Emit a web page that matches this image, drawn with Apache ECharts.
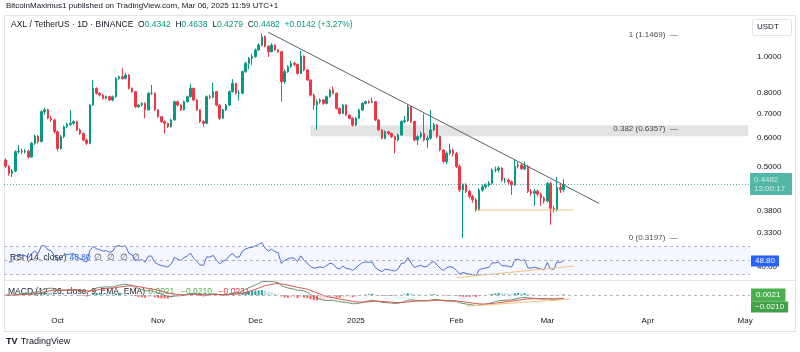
<!DOCTYPE html>
<html>
<head>
<meta charset="utf-8" />
<title>AXL / TetherUS - 1D - BINANCE</title>
<script src="https://cdn.jsdelivr.net/npm/echarts@6.0.0/dist/echarts.min.js"></script>
<style>
  html, body { margin: 0; padding: 0; background: #fff; }
  #chart { width: 800px; height: 352px; }
</style>
</head>
<body>
<div id="chart"></div>
<script>
// daily candles, 2024-09-15 .. 2025-03-06 (open = previous close, 24/7 market)
var firstOpen = 0.523;
var closes = [
  0.503, 0.481, 0.488, 0.551, 0.553, 0.550, 0.553, 0.533, 0.581, 0.608,
  0.587, 0.709, 0.717, 0.680, 0.673, 0.625, 0.562, 0.606, 0.645, 0.654,
  0.659, 0.666, 0.632, 0.618, 0.593, 0.581, 0.739, 0.821, 0.796, 0.787,
  0.771, 0.779, 0.763, 0.779, 0.874, 0.883, 0.874, 0.893, 0.821, 0.804,
  0.731, 0.739, 0.747, 0.717, 0.796, 0.796, 0.717, 0.687, 0.666, 0.659,
  0.645, 0.673, 0.755, 0.739, 0.717, 0.755, 0.779, 0.821, 0.763, 0.717,
  0.666, 0.659, 0.779, 0.776, 0.804, 0.739, 0.680, 0.717, 0.739, 0.804,
  0.847, 0.796, 0.796, 0.912, 0.961, 0.992, 1.002, 1.045, 1.078, 1.136,
  1.070, 1.034, 1.078, 1.045, 1.034, 0.856, 0.912, 0.941, 0.961, 0.955,
  0.902, 1.006, 0.922, 0.865, 0.787, 0.739, 0.755, 0.763, 0.747, 0.779,
  0.812, 0.796, 0.724, 0.701, 0.739, 0.694, 0.680, 0.652, 0.680, 0.717,
  0.747, 0.755, 0.752, 0.755, 0.673, 0.632, 0.600, 0.625, 0.618, 0.606,
  0.593, 0.612, 0.666, 0.670, 0.731, 0.666, 0.593, 0.606, 0.618, 0.593,
  0.600, 0.632, 0.652, 0.606, 0.557, 0.518, 0.546, 0.557, 0.545, 0.502,
  0.433, 0.447, 0.429, 0.416, 0.407, 0.382, 0.433, 0.442, 0.447, 0.452,
  0.491, 0.491, 0.497, 0.461, 0.461, 0.456, 0.447, 0.503, 0.507, 0.495,
  0.503, 0.429, 0.424, 0.430, 0.422, 0.412, 0.404, 0.451, 0.386, 0.382,
  0.440, 0.4342, 0.4482
];
var highs = [
  0.528, 0.506, 0.494, 0.556, 0.575, 0.562, 0.560, 0.558, 0.586, 0.615,
  0.612, 0.715, 0.727, 0.722, 0.690, 0.678, 0.630, 0.612, 0.650, 0.662,
  0.717, 0.672, 0.670, 0.638, 0.622, 0.598, 0.745, 0.865, 0.826, 0.800,
  0.792, 0.785, 0.784, 0.785, 0.880, 0.890, 0.931, 0.905, 0.898, 0.826,
  0.808, 0.745, 0.752, 0.751, 0.802, 0.839, 0.800, 0.720, 0.690, 0.670,
  0.662, 0.678, 0.760, 0.760, 0.742, 0.760, 0.785, 0.845, 0.825, 0.766,
  0.720, 0.672, 0.785, 0.790, 0.850, 0.808, 0.742, 0.722, 0.745, 0.810,
  0.870, 0.850, 0.812, 0.918, 0.970, 1.000, 1.020, 1.055, 1.090, 1.160,
  1.145, 1.075, 1.090, 1.082, 1.050, 1.040, 0.925, 0.950, 0.975, 0.970,
  0.960, 1.040, 1.010, 0.928, 0.870, 0.795, 0.765, 0.770, 0.768, 0.785,
  0.818, 0.830, 0.800, 0.728, 0.745, 0.742, 0.698, 0.684, 0.686, 0.722,
  0.752, 0.760, 0.762, 0.775, 0.758, 0.676, 0.636, 0.630, 0.628, 0.622,
  0.610, 0.618, 0.672, 0.690, 0.740, 0.735, 0.670, 0.612, 0.625, 0.700,
  0.610, 0.717, 0.660, 0.656, 0.610, 0.560, 0.552, 0.580, 0.562, 0.550,
  0.508, 0.452, 0.452, 0.434, 0.420, 0.412, 0.438, 0.448, 0.452, 0.458,
  0.496, 0.502, 0.504, 0.500, 0.468, 0.466, 0.460, 0.523, 0.515, 0.512,
  0.518, 0.506, 0.436, 0.436, 0.434, 0.426, 0.416, 0.456, 0.456, 0.392,
  0.470, 0.452, 0.4638
];
var lows = [
  0.497, 0.474, 0.470, 0.485, 0.545, 0.542, 0.545, 0.527, 0.530, 0.575,
  0.580, 0.585, 0.695, 0.675, 0.665, 0.618, 0.552, 0.558, 0.600, 0.640,
  0.648, 0.652, 0.628, 0.612, 0.588, 0.575, 0.578, 0.735, 0.790, 0.780,
  0.765, 0.766, 0.758, 0.756, 0.775, 0.866, 0.866, 0.868, 0.815, 0.798,
  0.725, 0.726, 0.733, 0.680, 0.713, 0.788, 0.712, 0.682, 0.660, 0.618,
  0.640, 0.641, 0.670, 0.733, 0.712, 0.714, 0.750, 0.775, 0.758, 0.712,
  0.660, 0.645, 0.655, 0.768, 0.770, 0.733, 0.672, 0.676, 0.712, 0.735,
  0.800, 0.790, 0.760, 0.792, 0.905, 0.925, 0.950, 0.995, 1.040, 1.070,
  1.062, 1.000, 1.028, 1.040, 1.026, 0.755, 0.845, 0.905, 0.935, 0.945,
  0.895, 0.898, 0.915, 0.860, 0.780, 0.717, 0.632, 0.745, 0.740, 0.742,
  0.775, 0.790, 0.718, 0.695, 0.698, 0.690, 0.675, 0.645, 0.648, 0.676,
  0.712, 0.742, 0.745, 0.748, 0.668, 0.628, 0.595, 0.596, 0.612, 0.600,
  0.545, 0.588, 0.608, 0.660, 0.665, 0.660, 0.588, 0.575, 0.600, 0.588,
  0.565, 0.595, 0.628, 0.600, 0.552, 0.512, 0.510, 0.540, 0.535, 0.497,
  0.428, 0.3197, 0.425, 0.410, 0.400, 0.378, 0.380, 0.428, 0.436, 0.442,
  0.448, 0.484, 0.484, 0.456, 0.452, 0.450, 0.420, 0.444, 0.496, 0.490,
  0.490, 0.425, 0.418, 0.392, 0.416, 0.392, 0.398, 0.400, 0.348, 0.376,
  0.378, 0.425, 0.4279
];

// axis ticks
var priceTicks = [0.33, 0.38, 0.5, 0.6, 0.7, 0.8, 1.0];
var tickDates = ['2024-10-01', '2024-11-01', '2024-12-01', '2025-01-01', '2025-02-01', '2025-03-01', '2025-04-01', '2025-05-01'];
var tickLabels = ['Oct', 'Nov', 'Dec', '2025', 'Feb', 'Mar', 'Apr', 'May'];

// drawings
var fibRatios = ['1', '0.382', '0'];
var fibPrices = [1.1469, 0.6357, 0.3197];
var zoneDates = ['2024-12-18', '2025-05-02'];
var zonePrices = [0.651, 0.6075];
var trendDates = ['2024-12-05', '2025-03-17'];
var trendPrices = [1.168, 0.398];
var supportDates = ['2025-02-07', '2025-03-09'];
var supportPrices = [0.382, 0.382];
var rsiTrendDates = ['2025-02-01', '2025-03-09'];
var rsiTrendValues = [25.2, 41.5];
var macdTrendDates = ['2025-02-04', '2025-03-08'];
var macdTrendValues = [-0.075, -0.028];

// header and last values shown on the scales
var ohlc = [0.4342, 0.4638, 0.4279, 0.4482];
var change = '+0.0142 (+3.27%)';
var countdown = '13:00:17';
var lastRsi = 48.80;
var lastHist = 0.0021;
var lastMacd = -0.0210;
var lastSignal = -0.0231;

// category axis: one slot per day, with empty space to the right
var dates = [];
for (var d = 0; d < 230; d++) {
    dates.push(new Date(Date.UTC(2024, 8, 15) + d * 864e5).toISOString().slice(0, 10));
}

var candles = closes.map(function (c, i) {
    var o = i === 0 ? firstOpen : closes[i - 1];
    return [o, c, lows[i], highs[i]];
});

// RSI (14) with Wilder smoothing, neutral warm-up
function calcRsi(src, len) {
    var seed = 0;
    for (var i = 1; i <= len; i++) seed += Math.abs(src[i] - src[i - 1]);
    var up = seed / len / 2, dn = up;
    var out = [null];
    for (var j = 1; j < src.length; j++) {
        var ch = src[j] - src[j - 1];
        up = (up * (len - 1) + Math.max(ch, 0)) / len;
        dn = (dn * (len - 1) + Math.max(-ch, 0)) / len;
        out.push(100 - 100 / (1 + up / dn));
    }
    return out;
}
function ema(src, len) {
    var k = 2 / (len + 1), out = [], prev = src[0];
    src.forEach(function (v) { prev = v * k + prev * (1 - k); out.push(prev); });
    return out;
}
var rsi = calcRsi(closes, 14);
var fast = ema(closes, 12), slow = ema(closes, 26);
var macd = fast.map(function (v, i) { return v - slow[i]; });
var signal = ema(macd, 9);
var hist = macd.map(function (v, i) { return v - signal[i]; });
var histData = hist.map(function (h, i) {
    var prev = i ? hist[i - 1] : 0;
    var col = h >= 0 ? (h > prev ? '#26a69a' : '#b2dfdb') : (h > prev ? '#ffcdd2' : '#ff5252');
    return { value: h, itemStyle: { color: col } };
});
var macdTop = Math.max.apply(null, macd.concat(signal)) * 1.03;

var font = 'Liberation Sans';
var ink = '#131722';
var hidden = 'rgba(0,0,0,0)';

// a label-only line used for the boxes on the right scale
function scaleBox(value, text, bg, extra) {
    var label = {
        show: true,
        position: 'end',
        distance: 1,
        formatter: text,
        backgroundColor: bg,
        color: '#ffffff',
        fontSize: 8,
        lineHeight: 9,
        padding: [1, 4],
        fontFamily: font
    };
    for (var k in extra) label[k] = extra[k];
    return { yAxis: value, lineStyle: { color: hidden, width: 0 }, label: label };
}

var chart = echarts.init(document.getElementById('chart'));

window.addEventListener('resize', function () {
    chart.resize();
});

var option = {
    animation: false,
    backgroundColor: '#ffffff',
    textStyle: { fontFamily: font },
    grid: [
        { left: 4, right: 50, top: 15, height: 230 },
        { left: 4, right: 50, top: 244, height: 35 },
        { left: 4, right: 50, top: 281, height: 32 }
    ],
    xAxis: [0, 1, 2].map(function (g) {
        return {
            type: 'category',
            gridIndex: g,
            data: dates,
            boundaryGap: true,
            axisLine: { show: false },
            axisTick: { show: false },
            splitLine: { show: false },
            axisLabel: {
                show: g === 2,
                margin: 4,
                fontSize: 8,
                color: ink,
                fontFamily: font,
                interval: function (idx, value) { return tickDates.indexOf(value) >= 0; },
                formatter: function (value) { return tickLabels[tickDates.indexOf(value)]; }
            }
        };
    }),
    yAxis: [
        {
            type: 'log',
            logBase: 10,
            gridIndex: 0,
            position: 'right',
            min: 0.3064,
            max: 1.3024,
            axisLine: { show: false },
            axisTick: { show: false },
            splitLine: { show: false },
            axisLabel: {
                customValues: priceTicks,
                margin: 7,
                fontSize: 8,
                color: ink,
                fontFamily: font,
                formatter: function (v) { return Number(v).toFixed(4); }
            }
        },
        {
            type: 'value',
            gridIndex: 1,
            position: 'right',
            min: 23.3,
            max: 72.8,
            axisLine: { show: false },
            axisTick: { show: false },
            splitLine: { show: false },
            axisLabel: {
                customValues: [40],
                margin: 7,
                fontSize: 8,
                color: ink,
                fontFamily: font,
                formatter: function (v) { return Number(v).toFixed(2); }
            }
        },
        {
            type: 'value',
            gridIndex: 2,
            position: 'right',
            min: -macdTop * 18 / 14,
            max: macdTop,
            axisLine: { show: false },
            axisTick: { show: false },
            splitLine: { show: false },
            axisLabel: { show: false }
        }
    ],
    series: [
        {
            name: 'AXL',
            type: 'candlestick',
            xAxisIndex: 0,
            yAxisIndex: 0,
            data: candles,
            barWidth: 2,
            itemStyle: {
                color: '#089981',
                color0: '#f23645',
                borderColor: '#089981',
                borderColor0: '#f23645',
                borderWidth: 1
            },
            markArea: {
                silent: true,
                itemStyle: { color: '#e3e3e3' },
                data: [[
                    { xAxis: zoneDates[0], yAxis: zonePrices[0] },
                    { xAxis: zoneDates[1], yAxis: zonePrices[1] }
                ]]
            },
            markLine: {
                silent: true,
                symbol: 'none',
                lineStyle: { color: '#089981', type: [1, 2], width: 1, opacity: 0.7 },
                label: {
                    position: 'end',
                    distance: 0,
                    formatter: ohlc[3].toFixed(4) + '\n' + countdown,
                    backgroundColor: '#089981',
                    color: '#ffffff',
                    fontSize: 8,
                    lineHeight: 9,
                    width: 34,
                    padding: [2, 4],
                    fontFamily: font
                },
                data: [{ yAxis: ohlc[3] }]
            }
        },
        {
            name: 'fib',
            type: 'scatter',
            xAxisIndex: 0,
            yAxisIndex: 0,
            symbolSize: 1,
            itemStyle: { color: 'transparent' },
            data: fibPrices.map(function (p) { return [dates[208], p]; }),
            label: {
                show: true,
                position: 'left',
                distance: 2,
                fontSize: 8,
                color: ink,
                fontFamily: font,
                formatter: function (p) {
                    return fibRatios[p.dataIndex] + ' (' + fibPrices[p.dataIndex].toFixed(4) + ')  \u2014';
                }
            }
        },
        {
            name: 'trend',
            type: 'line',
            xAxisIndex: 0,
            yAxisIndex: 0,
            symbol: 'none',
            lineStyle: { color: '#5d606b', width: 1 },
            data: trendDates.map(function (d, i) { return [d, trendPrices[i]]; })
        },
        {
            name: 'support',
            type: 'line',
            xAxisIndex: 0,
            yAxisIndex: 0,
            symbol: 'none',
            lineStyle: { color: '#f2c37e', width: 1 },
            data: supportDates.map(function (d, i) { return [d, supportPrices[i]]; })
        },
        {
            name: 'RSI',
            type: 'line',
            xAxisIndex: 1,
            yAxisIndex: 1,
            symbol: 'none',
            clip: false,
            lineStyle: { color: '#4c6fd0', width: 1 },
            data: rsi,
            markArea: {
                silent: true,
                itemStyle: { color: 'rgba(41, 98, 255, 0.05)' },
                data: [[{ yAxis: 70 }, { yAxis: 30 }]]
            },
            markLine: {
                silent: true,
                symbol: 'none',
                lineStyle: { color: '#b2b5be', type: [3, 3], width: 1 },
                label: { show: false },
                data: [
                    { yAxis: 70 }, { yAxis: 50 }, { yAxis: 30 },
                    scaleBox(lastRsi, lastRsi.toFixed(2), '#2962ff', {})
                ]
            }
        },
        {
            name: 'RSI trend',
            type: 'line',
            xAxisIndex: 1,
            yAxisIndex: 1,
            symbol: 'none',
            lineStyle: { color: '#f2c37e', width: 1 },
            data: rsiTrendDates.map(function (d, i) { return [d, rsiTrendValues[i]]; })
        },
        {
            name: 'Histogram',
            type: 'bar',
            xAxisIndex: 2,
            yAxisIndex: 2,
            barWidth: 2,
            data: histData,
            markLine: {
                silent: true,
                symbol: 'none',
                lineStyle: { color: '#b2b5be', type: [3, 3], width: 1 },
                label: { show: false },
                data: [
                    { yAxis: 0 },
                    scaleBox(lastHist, lastHist.toFixed(4), '#4caf50', { padding: [2, 5] }),
                    scaleBox(lastMacd, '\u2212' + Math.abs(lastMacd).toFixed(4), '#43a047', { padding: [1, 4], offset: [0, 9] })
                ]
            }
        },
        {
            name: 'MACD',
            type: 'line',
            xAxisIndex: 2,
            yAxisIndex: 2,
            symbol: 'none',
            lineStyle: { color: '#6a8f6e', width: 1 },
            data: macd
        },
        {
            name: 'Signal',
            type: 'line',
            xAxisIndex: 2,
            yAxisIndex: 2,
            symbol: 'none',
            lineStyle: { color: '#d9544f', width: 1 },
            data: signal
        },
        {
            name: 'MACD trend',
            type: 'line',
            xAxisIndex: 2,
            yAxisIndex: 2,
            symbol: 'none',
            lineStyle: { color: '#f2c37e', width: 1 },
            data: macdTrendDates.map(function (d, i) { return [d, macdTrendValues[i]]; })
        }
    ],
    graphic: [
        {
            type: 'rect', silent: true, z: -1,
            shape: { x: 4.5, y: 15.5, width: 791, height: 316 },
            style: { fill: 'none', stroke: '#e0e3eb', lineWidth: 1 }
        },
        {
            type: 'line', silent: true,
            shape: { x1: 5, y1: 280.5, x2: 795, y2: 280.5 },
            style: { stroke: '#e0e3eb', lineWidth: 1 }
        },
        {
            type: 'text', left: 6, top: 2,
            style: { text: 'BitcoinMaximus1 published on TradingView.com, Mar 06, 2025 11:59 UTC+1', fontSize: 8, fill: ink, fontFamily: font }
        },
        {
            type: 'text', left: 11, top: 20,
            style: {
                text: '{k|AXL / TetherUS \u00b7 1D \u00b7 BINANCE  O}{v|' + ohlc[0].toFixed(4) + '}{k|  H}{v|' + ohlc[1].toFixed(4) +
                    '}{k|  L}{v|' + ohlc[2].toFixed(4) + '}{k|  C}{v|' + ohlc[3].toFixed(4) + '}{v|  ' + change + '}',
                rich: {
                    k: { fontSize: 8.5, fill: ink, fontFamily: font },
                    v: { fontSize: 8.5, fill: '#089981', fontFamily: font }
                }
            }
        },
        {
            type: 'rect', silent: true,
            shape: { x: 752.5, y: 19.5, width: 39, height: 16, r: 2 },
            style: { fill: '#ffffff', stroke: '#e0e3eb', lineWidth: 1 }
        },
        {
            type: 'text', left: 757, top: 23,
            style: { text: 'USDT', fontSize: 8, fill: ink, fontFamily: font }
        },
        {
            type: 'text', left: 10, top: 252,
            style: {
                text: '{k|RSI (14, close)} {b|' + lastRsi.toFixed(2) + '} {g|\u2205  \u2205  \u2205  \u2205}',
                rich: {
                    k: { fontSize: 8.5, fill: ink, fontFamily: font },
                    b: { fontSize: 8.5, fill: '#2962ff', fontFamily: font },
                    g: { fontSize: 8.5, fill: '#50535e', fontFamily: font }
                }
            }
        },
        {
            type: 'text', left: 8, top: 286,
            style: {
                text: '{k|MACD (12, 26, close, 9, EMA, EMA)} {g|' + lastHist.toFixed(4) + '}  {g|\u2212' + Math.abs(lastMacd).toFixed(4) + '}  {r|\u2212' + Math.abs(lastSignal).toFixed(4) + '}',
                rich: {
                    k: { fontSize: 8.5, fill: ink, fontFamily: font },
                    g: { fontSize: 8.5, fill: '#4caf50', fontFamily: font },
                    r: { fontSize: 8.5, fill: '#f23645', fontFamily: font }
                }
            }
        },
        {
            type: 'text', left: 6, top: 336,
            style: {
                text: '{b|TV} {k|TradingView}',
                rich: {
                    b: { fontSize: 9, fontWeight: 'bold', fill: ink, fontFamily: font },
                    k: { fontSize: 9, fill: ink, fontFamily: font }
                }
            }
        }
    ]
};

chart.setOption(option);
</script>
</body>
</html>
